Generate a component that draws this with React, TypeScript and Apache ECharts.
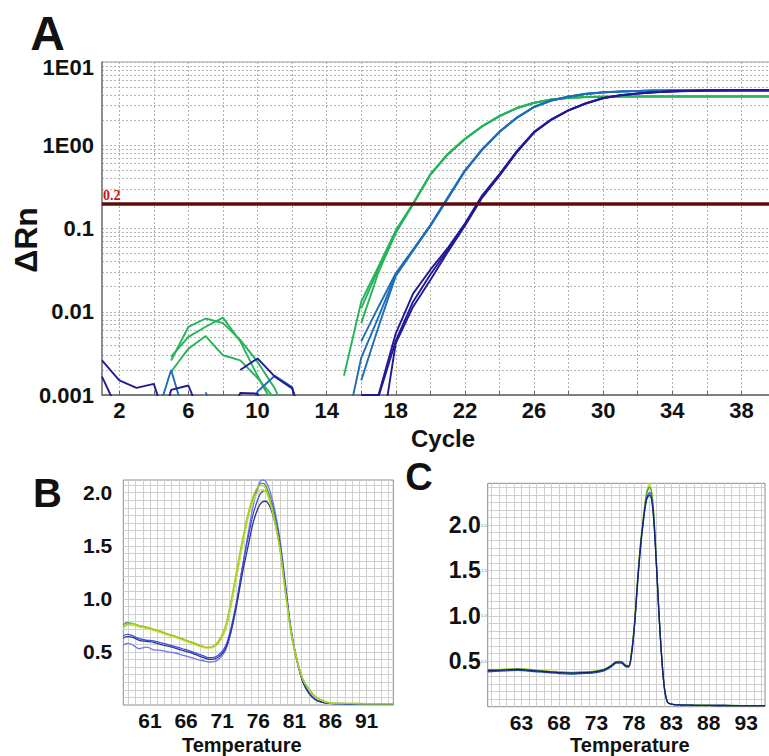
import React, { useEffect, useRef } from 'react';
import * as echarts from 'echarts';

const FONT = "'Liberation Sans', Arial, Helvetica, sans-serif";

// ---------- Panel A: amplification plot ----------
const CYCLES = [1, 2, 3, 4, 5, 6, 7, 8, 9, 10, 11, 12, 13, 14, 15, 16, 17, 18, 19, 20,
  21, 22, 23, 24, 25, 26, 27, 28, 29, 30, 31, 32, 33, 34, 35, 36, 37, 38, 39, 40];
const THRESHOLD = 0.2;
const A_X_LABELS = [2, 6, 10, 14, 18, 22, 26, 30, 34, 38];
const A_Y_LABELS = [0.001, 0.01, 0.1, 1, 10];
const A_Y_TEXT: Record<string, string> = { '-3': '0.001', '-2': '0.01', '-1': '0.1', '0': '1E00', '1': '1E01' };

const AMP_GREEN_1 = [null, null, null, null, 0.0026, 0.0066, 0.0083, 0.0073, 0.0046, 0.0025,
  0.0012, 0.0004, null, null, 0.0017, 0.0132, 0.035, 0.095, 0.2, 0.45,
  0.78, 1.2, 1.7, 2.25, 2.8, 3.25, 3.55, 3.72, 3.8, 3.84,
  3.85, 3.86, 3.86, 3.86, 3.86, 3.86, 3.86, 3.86, 3.86, 3.86];
const AMP_GREEN_2 = [null, null, null, null, 0.0029, 0.005, 0.0066, 0.0085, 0.0044, 0.0017,
  0.0007, null, null, null, null, 0.0073, 0.03, 0.088, 0.195, 0.44,
  0.77, 1.18, 1.68, 2.23, 2.78, 3.22, 3.52, 3.7, 3.78, 3.82,
  3.84, 3.84, 3.85, 3.85, 3.85, 3.85, 3.85, 3.85, 3.85, 3.85];
const AMP_GREEN_3 = [null, null, null, null, 0.0019, 0.0036, 0.0051, 0.003, 0.0026, 0.0016,
  0.0009, 0.0003, null, null, null, 0.011, 0.033, 0.092, 0.198, 0.445,
  0.78, 1.19, 1.69, 2.24, 2.8, 3.24, 3.54, 3.71, 3.79, 3.83,
  3.84, 3.85, 3.85, 3.85, 3.85, 3.85, 3.85, 3.85, 3.85, 3.85];
const AMP_TEAL_1 = [null, null, null, 0.00043, 0.002, 0.0004, null, null, null, null,
  null, null, null, null, null, 0.0044, 0.0115, 0.029, 0.056, 0.11,
  0.235, 0.5, 0.9, 1.46, 2.15, 2.9, 3.45, 3.85, 4.15, 4.33,
  4.43, 4.5, 4.54, 4.56, 4.57, 4.57, 4.58, 4.58, 4.58, 4.58];
const AMP_TEAL_2 = [null, null, null, null, null, null, null, null, 0.0003, 0.0011,
  0.0017, 0.00125, 0.0002, null, 0.0003, 0.0028, 0.0087, 0.028, 0.055, 0.108,
  0.23, 0.49, 0.89, 1.45, 2.14, 2.88, 3.44, 3.84, 4.14, 4.32,
  4.42, 4.5, 4.54, 4.56, 4.57, 4.57, 4.58, 4.58, 4.58, 4.58];
const AMP_TEAL_3 = [null, null, null, null, null, null, 0.00108, 0.0003, null, null,
  null, null, null, null, null, 0.0015, 0.0066, 0.027, 0.054, 0.107,
  0.228, 0.49, 0.88, 1.44, 2.13, 2.87, 3.43, 3.83, 4.13, 4.31,
  4.41, 4.49, 4.53, 4.55, 4.56, 4.57, 4.57, 4.57, 4.57, 4.57];
const AMP_NAVY_1 = [0.0026, 0.0015, 0.00122, 0.00136, 0.0003, null, null, 0.0003, 0.00106, 0.00104,
  0.0003, null, null, null, null, 0.001, 0.001, 0.0055, 0.0165, 0.032,
  0.058, 0.115, 0.25, 0.45, 0.85, 1.45, 2.05, 2.65, 3.2, 3.7,
  4.0, 4.2, 4.35, 4.45, 4.5, 4.54, 4.56, 4.57, 4.58, 4.58];
const AMP_NAVY_2 = [0.00166, 0.0006, null, 0.0002, 0.00115, 0.0013, 0.0004, null, null, null,
  null, null, null, null, null, null, 0.00095, 0.0045, 0.0132, 0.028,
  0.055, 0.11, 0.24, 0.44, 0.83, 1.43, 2.03, 2.63, 3.18, 3.68,
  3.98, 4.18, 4.34, 4.44, 4.5, 4.54, 4.56, 4.57, 4.58, 4.58];
const AMP_NAVY_3 = [null, null, null, null, null, null, null, null, 0.002, 0.00275,
  0.00166, 0.0012, 0.0003, null, null, null, 0.0002, 0.0042, 0.0115, 0.024,
  0.052, 0.108, 0.235, 0.43, 0.82, 1.42, 2.02, 2.62, 3.17, 3.67,
  3.97, 4.17, 4.33, 4.43, 4.49, 4.53, 4.55, 4.57, 4.57, 4.57];

// ---------- Panel B: melt curve ----------
const MELT_B_TEMP = [57.3, 57.8, 58.5, 59.5, 60.5, 61.5, 62.5, 63.5, 64.5, 65.5, 66.5, 67.5, 68.5, 69.2,
  70.0, 70.8, 71.5, 72.2, 73.0, 73.8, 74.6, 75.3, 76.0, 76.5, 77.0, 77.6, 78.3, 79.0, 79.8,
  80.6, 81.4, 82.2, 83.0, 83.8, 84.6, 85.5, 86.5, 88.0, 90.0, 92.0, 94.7];
const B_X_LABELS = [61, 66, 71, 76, 81, 86, 91];
const MELT_B_GREEN = [0.755, 0.775, 0.77, 0.745, 0.73, 0.71, 0.69, 0.665, 0.645, 0.62, 0.595, 0.57, 0.545, 0.54,
  0.555, 0.62, 0.72, 0.93, 1.22, 1.51, 1.78, 1.95, 2.06, 2.09, 2.07, 1.96, 1.76, 1.49, 1.06,
  0.67, 0.42, 0.24, 0.155, 0.085, 0.05, 0.025, 0.016, 0.014, 0.013, 0.012, 0.012];
const MELT_B_YELLOW_1 = [0.73, 0.76, 0.765, 0.75, 0.735, 0.715, 0.695, 0.67, 0.65, 0.625, 0.6, 0.575, 0.55, 0.545,
  0.565, 0.64, 0.76, 0.98, 1.27, 1.56, 1.81, 1.97, 2.06, 2.07, 2.04, 1.93, 1.73, 1.46, 1.03,
  0.65, 0.41, 0.235, 0.15, 0.085, 0.05, 0.026, 0.017, 0.015, 0.014, 0.013, 0.013];
const MELT_B_YELLOW_2 = [0.72, 0.75, 0.75, 0.735, 0.72, 0.7, 0.68, 0.655, 0.635, 0.61, 0.585, 0.56, 0.54, 0.535,
  0.55, 0.61, 0.72, 0.93, 1.2, 1.5, 1.76, 1.92, 2.01, 2.03, 2.01, 1.91, 1.72, 1.46, 1.04,
  0.66, 0.41, 0.235, 0.15, 0.085, 0.05, 0.025, 0.016, 0.015, 0.014, 0.013, 0.013];
const MELT_B_BLUE_1 = [0.65, 0.665, 0.655, 0.625, 0.61, 0.605, 0.585, 0.57, 0.55, 0.53, 0.51, 0.485, 0.46, 0.445,
  0.45, 0.49, 0.56, 0.72, 0.98, 1.3, 1.58, 1.8, 1.95, 2.01, 2.02, 1.96, 1.79, 1.53, 1.1,
  0.68, 0.41, 0.22, 0.12, 0.06, 0.032, 0.018, 0.014, 0.012, 0.011, 0.011, 0.011];
const MELT_B_BLUE_2 = [0.56, 0.58, 0.57, 0.53, 0.545, 0.52, 0.515, 0.5, 0.49, 0.47, 0.45, 0.43, 0.415, 0.405,
  0.41, 0.45, 0.52, 0.68, 0.95, 1.3, 1.62, 1.88, 2.06, 2.12, 2.11, 2.02, 1.83, 1.56, 1.12,
  0.69, 0.41, 0.22, 0.12, 0.06, 0.032, 0.018, 0.013, 0.011, 0.011, 0.01, 0.01];
const MELT_B_NAVY = [0.63, 0.645, 0.64, 0.61, 0.6, 0.59, 0.57, 0.555, 0.535, 0.515, 0.495, 0.47, 0.445, 0.43,
  0.435, 0.47, 0.54, 0.69, 0.94, 1.24, 1.5, 1.72, 1.86, 1.91, 1.92, 1.87, 1.72, 1.48, 1.07,
  0.66, 0.4, 0.21, 0.11, 0.055, 0.03, 0.017, 0.013, 0.012, 0.011, 0.011, 0.011];

// ---------- Panel C: melt curve ----------
const MELT_C_TEMP = [58.5, 59.5, 61, 62.5, 63.5, 65, 66.5, 68, 69.5, 71, 72.5, 74, 75, 75.7, 76.3, 76.9, 77.3,
  77.7, 78.1, 78.5, 78.9, 79.3, 79.7, 80.1, 80.5, 80.9, 81.3, 81.7, 82.1, 82.5, 83.0, 84, 86, 88, 90, 92, 95.5];
const C_X_LABELS = [63, 68, 73, 78, 83, 88, 93];
const MELT_Y_LABELS = [0.5, 1.0, 1.5, 2.0];
const MELT_C_YELLOW = [0.41, 0.41, 0.415, 0.42, 0.415, 0.405, 0.395, 0.385, 0.38, 0.385, 0.39, 0.415, 0.46, 0.5, 0.5,
  0.46, 0.455, 0.62, 0.95, 1.42, 1.82, 2.12, 2.36, 2.46, 2.3, 1.78, 1.12, 0.57, 0.19, 0.05,
  0.03, 0.022, 0.018, 0.016, 0.015, 0.013, 0.012];
const MELT_C_GREEN = [0.405, 0.405, 0.41, 0.415, 0.41, 0.4, 0.39, 0.38, 0.375, 0.38, 0.385, 0.41, 0.455, 0.495, 0.495,
  0.455, 0.45, 0.6, 0.93, 1.4, 1.8, 2.1, 2.34, 2.42, 2.27, 1.77, 1.12, 0.57, 0.19, 0.05,
  0.028, 0.02, 0.016, 0.015, 0.014, 0.012, 0.012];
const MELT_C_BLUE = [0.385, 0.39, 0.395, 0.4, 0.395, 0.385, 0.375, 0.365, 0.36, 0.365, 0.37, 0.395, 0.44, 0.48, 0.48,
  0.44, 0.435, 0.58, 0.9, 1.36, 1.76, 2.06, 2.29, 2.36, 2.22, 1.74, 1.1, 0.56, 0.19, 0.05,
  0.028, 0.02, 0.016, 0.014, 0.013, 0.012, 0.011];
const MELT_C_NAVY = [0.4, 0.4, 0.405, 0.41, 0.405, 0.395, 0.385, 0.375, 0.37, 0.375, 0.38, 0.405, 0.45, 0.49, 0.49,
  0.45, 0.445, 0.59, 0.91, 1.37, 1.77, 2.07, 2.28, 2.33, 2.2, 1.73, 1.1, 0.56, 0.19, 0.05,
  0.028, 0.02, 0.016, 0.014, 0.013, 0.012, 0.011];

// ---------- helpers ----------
function range(a: number, b: number, step: number) {
  const out: number[] = [];
  for (let k = 0; a + k * step <= b + 1e-9; k++) out.push(+(a + k * step).toFixed(6));
  return out;
}
function logMinorTicks(e0: number, e1: number) {
  const out: number[] = [];
  for (let e = e0; e < e1; e++) for (let m = 1; m <= 9; m++) out.push(+(m * Math.pow(10, e)).toPrecision(6));
  out.push(Math.pow(10, e1));
  return out;
}
const pair = (xs: number[], ys: (number | null)[]) =>
  xs.map((x, i) => (ys[i] == null ? [x, '-'] : [x, ys[i]]));

const bold = (size: number, extra: any = {}) => ({
  fontFamily: FONT, fontWeight: 'bold', fontSize: size, color: '#111', ...extra,
});

function buildOption(): any {
  const GREEN = '#27b35a';
  const TEAL = '#1f6db8';
  const NAVY = '#211a97';
  const ampList: [string, (number | null)[], string][] = [
    ['Green 1', AMP_GREEN_1, GREEN], ['Green 2', AMP_GREEN_2, GREEN], ['Green 3', AMP_GREEN_3, GREEN],
    ['Blue 1', AMP_TEAL_1, TEAL], ['Blue 2', AMP_TEAL_2, TEAL], ['Blue 3', AMP_TEAL_3, TEAL],
    ['Navy 1', AMP_NAVY_1, NAVY], ['Navy 2', AMP_NAVY_2, NAVY], ['Navy 3', AMP_NAVY_3, NAVY],
  ];
  const ampSeries = ampList.map(([name, arr, color]) => ({
    type: 'line', name, xAxisIndex: 0, yAxisIndex: 0,
    data: pair(CYCLES, arr), showSymbol: false, symbol: 'none', clip: true, connectNulls: false,
    lineStyle: { color, width: 1.9 }, itemStyle: { color }, z: 3,
  }));
  const threshold = {
    type: 'line', name: 'Threshold', xAxisIndex: 0, yAxisIndex: 0, data: [], z: 6,
    markLine: {
      silent: true, symbol: ['none', 'none'], animation: false,
      lineStyle: { color: '#5e0b0b', width: 3.5, type: 'solid' },
      label: {
        show: true, position: 'insideStartTop', formatter: String(THRESHOLD), distance: 1,
        color: '#cc1111', fontFamily: "'Liberation Serif', 'DejaVu Serif', serif", fontWeight: 'bold', fontSize: 14,
      },
      data: [{ yAxis: THRESHOLD }],
    },
  };

  const meltB: [string, number[], string][] = [
    ['B blue 2', MELT_B_BLUE_2, '#7272ee'], ['B blue 1', MELT_B_BLUE_1, '#3c52d4'], ['B navy', MELT_B_NAVY, '#2b3595'],
    ['B green', MELT_B_GREEN, '#46a63c'], ['B yellow 2', MELT_B_YELLOW_2, '#cfe23a'], ['B yellow 1', MELT_B_YELLOW_1, '#a9cc2c'],
  ];
  const meltC: [string, number[], string][] = [
    ['C yellow', MELT_C_YELLOW, '#c8df2a'], ['C green', MELT_C_GREEN, '#3d9b36'],
    ['C blue', MELT_C_BLUE, '#2848cc'], ['C navy', MELT_C_NAVY, '#15226e'],
  ];
  const meltSeries = (list: [string, number[], string][], temps: number[], idx: number) =>
    list.map(([name, arr, color]) => ({
      type: 'line', name, xAxisIndex: idx, yAxisIndex: idx, data: pair(temps, arr),
      smooth: 0.35, showSymbol: false, symbol: 'none', clip: true,
      lineStyle: { color, width: 1.3 }, itemStyle: { color }, z: 3,
    }));

  const meltGridLine = { show: true, lineStyle: { color: '#cfcfcf', width: 1, type: 'solid' } };

  return {
    animation: false,
    backgroundColor: '#ffffff',
    grid: [
      { left: 102, top: 62, right: -7, bottom: 361, show: true, borderColor: '#9a9a9a', borderWidth: 1, outerBoundsMode: 'none' },
      { left: 123.3, top: 480, right: 375.7, bottom: 51, show: true, borderColor: '#8a8a8a', borderWidth: 1, outerBoundsMode: 'none' },
      { left: 487.7, top: 483.3, right: 4, bottom: 49.3, show: true, borderColor: '#8a8a8a', borderWidth: 1, outerBoundsMode: 'none' },
    ],
    xAxis: [
      {
        type: 'value', gridIndex: 0, min: 1, max: 40,
        name: 'Cycle', nameLocation: 'middle', nameGap: 31,
        nameTextStyle: bold(24, { padding: [0, 0, 0, 8] }),
        axisLine: { show: true, onZero: false, lineStyle: { color: '#666', width: 1.5 } },
        axisTick: { show: true, inside: true, length: 4, customValues: range(2, 40, 2), lineStyle: { color: '#666' } },
        axisLabel: { customValues: A_X_LABELS, margin: 4, ...bold(22) },
        splitLine: { show: true, lineStyle: { color: '#b3b3b3', width: 1, type: [2, 2] } },
      },
      {
        type: 'value', gridIndex: 1, min: 57.3, max: 94.7,
        name: 'Temperature', nameLocation: 'middle', nameGap: 30,
        nameTextStyle: bold(20, { padding: [0, 33, 0, 0] }),
        axisLine: { show: false, onZero: false },
        axisTick: { show: false, customValues: range(58, 94, 1) },
        axisLabel: { customValues: B_X_LABELS, margin: 5, ...bold(21) },
        splitLine: meltGridLine,
      },
      {
        type: 'value', gridIndex: 2, min: 58.5, max: 95.5,
        name: 'Temperature', nameLocation: 'middle', nameGap: 28,
        nameTextStyle: bold(20, { padding: [0, 0, 0, 7] }),
        axisLine: { show: false, onZero: false },
        axisTick: { show: false, customValues: range(59, 95, 1) },
        axisLabel: { customValues: C_X_LABELS, margin: 5, ...bold(21) },
        splitLine: meltGridLine,
      },
    ],
    yAxis: [
      {
        type: 'log', logBase: 10, gridIndex: 0, min: 0.001, max: 10,
        axisLine: { show: true, onZero: false, lineStyle: { color: '#777', width: 1.5 } },
        axisTick: { show: false, customValues: logMinorTicks(-3, 1) },
        axisLabel: {
          customValues: A_Y_LABELS, margin: 8, ...bold(22),
          formatter: (v: number) => {
            const e = Math.round(Math.log10(v));
            const t = A_Y_TEXT[String(e)] ?? '';
            return e === 1 ? `{low|${t}}` : t;
          },
          rich: { low: { ...bold(22), padding: [10, 0, 0, 0] } },
        },
        splitLine: { show: true, lineStyle: { color: '#b3b3b3', width: 1, type: [2, 2] } },
      },
      {
        type: 'value', gridIndex: 1, min: 0, max: 2.12,
        axisLine: { show: false },
        axisTick: { show: false, customValues: range(1, 29, 1).map((k) => +(k * 0.5 / 7).toFixed(6)) },
        axisLabel: { customValues: MELT_Y_LABELS, margin: 11, ...bold(21), formatter: (v: number) => v.toFixed(1) },
        splitLine: meltGridLine,
      },
      {
        type: 'value', gridIndex: 2, min: 0, max: 2.46, position: 'left',
        axisLine: { show: false },
        axisTick: { show: false, customValues: range(1, 29, 1).map((k) => +(k * 0.5 / 6).toFixed(6)) },
        axisLabel: { customValues: MELT_Y_LABELS, margin: 7, ...bold(23), formatter: (v: number) => v.toFixed(1) },
        splitLine: meltGridLine,
      },
      {
        // the instrument's own tiny tick labels right next to the axis in panel C
        type: 'value', gridIndex: 2, min: 0, max: 2.46, position: 'left', offset: 0,
        axisLine: { show: false },
        axisTick: { show: false },
        axisLabel: {
          customValues: MELT_Y_LABELS, margin: 1, fontFamily: FONT, fontSize: 4, color: '#777',
          formatter: (v: number) => v.toFixed(1),
        },
        splitLine: { show: false },
      },
    ],
    graphic: [
      { type: 'text', x: 47.5, y: 33, style: { text: 'A', ...bold(48), fill: '#111', align: 'center', verticalAlign: 'middle' } },
      { type: 'text', x: 47.5, y: 493, style: { text: 'B', ...bold(40), fill: '#111', align: 'center', verticalAlign: 'middle' } },
      { type: 'text', x: 419, y: 477, style: { text: 'C', ...bold(38), fill: '#111', align: 'center', verticalAlign: 'middle' } },
      {
        type: 'text', x: 26, y: 240, rotation: Math.PI / 2,
        style: { text: 'ΔRn', ...bold(32), fill: '#111', align: 'center', verticalAlign: 'middle' },
      },
    ],
    series: [
      ...ampSeries,
      threshold,
      ...meltSeries(meltB, MELT_B_TEMP, 1),
      ...meltSeries(meltC, MELT_C_TEMP, 2),
    ],
  };
}

export default function App() {
  const ref = useRef<HTMLDivElement>(null);
  useEffect(() => {
    if (!ref.current) return;
    const chart = echarts.init(ref.current, null, { renderer: 'svg' });
    chart.setOption(buildOption());
    return () => chart.dispose();
  }, []);
  return (
    <div
      ref={ref}
      style={{ position: 'absolute', left: 0, top: 0, width: 769, height: 756, background: '#ffffff' }}
    />
  );
}
